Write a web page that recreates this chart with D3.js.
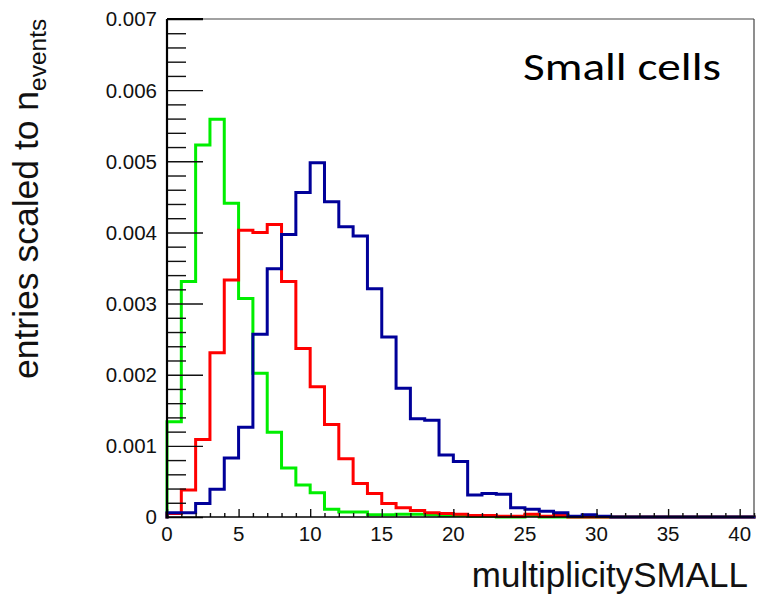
<!DOCTYPE html>
<html>
<head>
<meta charset="utf-8">
<script src="https://cdn.jsdelivr.net/npm/d3@7"></script>
<style>
  html, body { margin: 0; padding: 0; background: #fff; }
  svg { display: block; }
</style>
</head>
<body>
<svg id="chart" width="758" height="597"></svg>
<script>
// ---- data (entries scaled to n_events, unit 1e-3, one value per unit bin 0..40) ----
const binEdges = d3.range(0, 42); // 0..41
const greenVals = [1.34, 3.31, 5.23, 5.59, 4.41, 3.07, 2.02, 1.19, 0.69, 0.45,
                   0.34, 0.11, 0.07, 0.07, 0.03, 0.03, 0.04, 0.04, 0.03, 0.02,
                   0.02, 0.01, 0.01, 0.0, 0.0, 0.02, 0.0, 0.0, 0.0, 0.0,
                   0.0, 0.0, 0.0, 0.0, 0.0, 0.0, 0.0, 0.0, 0.0, 0.0, 0.0];
const redVals   = [0.05, 0.38, 1.09, 2.31, 3.33, 4.03, 4.00, 4.11, 3.31, 2.37,
                   1.83, 1.30, 0.82, 0.47, 0.33, 0.19, 0.13, 0.09, 0.06, 0.05,
                   0.04, 0.02, 0.02, 0.01, 0.01, 0.04, 0.01, 0.02, 0.0, 0.0,
                   0.0, 0.0, 0.0, 0.0, 0.0, 0.0, 0.0, 0.0, 0.0, 0.0, 0.0];
const blueVals  = [0.06, 0.06, 0.19, 0.39, 0.83, 1.26, 2.57, 3.49, 3.97, 4.56,
                   4.98, 4.43, 4.08, 3.95, 3.21, 2.53, 1.81, 1.38, 1.36, 0.87,
                   0.78, 0.31, 0.33, 0.32, 0.13, 0.11, 0.08, 0.06, 0.01, 0.03,
                   0.01, 0.0, 0.0, 0.0, 0.0, 0.0, 0.0, 0.0, 0.0, 0.0, 0.0];
const seriesNames  = ["green", "red", "blue"];
const seriesColors = ["#00ee00", "#ff0000", "#000099"];
const yMajorTicks = [0, 0.001, 0.002, 0.003, 0.004, 0.005, 0.006, 0.007];
const xMajorTicks = [0, 5, 10, 15, 20, 25, 30, 35, 40];
const xTitle = "multiplicitySMALL";
const yTitleMain = "entries scaled to n";
const yTitleSub = "events";
const annotation = "Small cells";

// ---- layout ----
const svg = d3.select("#chart");
const L = 167, R = 754, T = 19, B = 517;
const x = d3.scaleLinear().domain([0, 41]).range([L, R]);
const y = d3.scaleLinear().domain([0, 0.007]).range([B, T]);

const font = "'Liberation Sans', Arial, Helvetica, sans-serif";

// frame (top / right)
svg.append("line").attr("x1", L).attr("x2", R).attr("y1", T).attr("y2", T)
  .attr("stroke", "#444").attr("stroke-width", 1.2);
svg.append("line").attr("x1", R).attr("x2", R).attr("y1", T).attr("y2", B)
  .attr("stroke", "#444").attr("stroke-width", 1.2);

// histograms
const allVals = [greenVals, redVals, blueVals];
const line = d3.line().x(d => x(d[0])).y(d => y(d[1])).curve(d3.curveStepAfter);
allVals.forEach((vals, k) => {
  const pts = [[0, 0]].concat(vals.map((v, i) => [binEdges[i], v * 1e-3]));
  pts.push([binEdges[vals.length], vals[vals.length - 1] * 1e-3]);
  svg.append("path")
    .attr("class", "hist-" + seriesNames[k])
    .attr("d", line(pts))
    .attr("fill", "none")
    .attr("stroke", seriesColors[k])
    .attr("stroke-width", 3)
    .attr("stroke-linejoin", "miter")
    .attr("stroke-linecap", "square");
});

// y axis (ticks inward)
const yMinor = d3.range(0, 0.00701, 0.0002).filter(v => !yMajorTicks.some(m => Math.abs(m - v) < 1e-9));
const yAxisMinor = d3.axisRight(y).tickValues(yMinor).tickSize(19).tickFormat("");
const yAxisMajor = d3.axisRight(y).tickValues(yMajorTicks).tickSize(36).tickFormat("");
[yAxisMinor, yAxisMajor].forEach(ax => {
  const g = svg.append("g").attr("transform", `translate(${L},0)`).call(ax);
  g.select(".domain").remove();
  g.selectAll(".tick line").attr("stroke", "#111").attr("stroke-width", 1.4);
});
svg.selectAll(null).data(yMajorTicks).enter().append("text")
  .attr("x", L - 10).attr("y", d => y(d)).attr("dy", "0.36em")
  .attr("text-anchor", "end")
  .attr("font-family", font).attr("font-size", 20.5).attr("fill", "#111")
  .text(d => d === 0 ? "0" : d3.format(".3f")(d));

// x axis (ticks upward)
const xMinor = d3.range(0, 42).filter(v => v % 5 !== 0);
const xAxisMinor = d3.axisTop(x).tickValues(xMinor).tickSize(4).tickFormat("");
const xAxisMajor = d3.axisTop(x).tickValues(xMajorTicks).tickSize(8).tickFormat("");
[xAxisMinor, xAxisMajor].forEach(ax => {
  const g = svg.append("g").attr("transform", `translate(0,${B})`).call(ax);
  g.select(".domain").remove();
  g.selectAll(".tick line").attr("stroke", "#111").attr("stroke-width", 1.4);
});
svg.selectAll(null).data(xMajorTicks).enter().append("text")
  .attr("x", d => x(d)).attr("y", 541)
  .attr("text-anchor", "middle")
  .attr("font-family", font).attr("font-size", 20.5).attr("fill", "#111")
  .text(d => d);

// axis lines
svg.append("line").attr("x1", L).attr("x2", L).attr("y1", T).attr("y2", B + 1)
  .attr("stroke", "#000").attr("stroke-width", 2.2);
svg.append("line").attr("x1", L).attr("x2", R).attr("y1", B).attr("y2", B)
  .attr("stroke", "#000").attr("stroke-width", 1.6);
svg.append("line").attr("x1", L).attr("x2", L + 36).attr("y1", T).attr("y2", T)
  .attr("stroke", "#000").attr("stroke-width", 2.2);

// axis titles
svg.append("text")
  .attr("x", 748).attr("y", 587)
  .attr("text-anchor", "end")
  .attr("font-family", font).attr("font-size", 35).attr("fill", "#111")
  .text(xTitle);

const yt = svg.append("text")
  .attr("transform", "translate(38,379) rotate(-90)")
  .attr("text-anchor", "start")
  .attr("font-family", font).attr("fill", "#111");
yt.append("tspan").attr("font-size", 35.5).text(yTitleMain);
yt.append("tspan").attr("font-size", 24.5).attr("dy", 8).text(yTitleSub);

// annotation
svg.append("text")
  .attr("x", 523).attr("y", 80)
  .attr("font-family", "Carlito, Calibri, 'Open Sans', Lato, sans-serif")
  .attr("font-size", 38).attr("font-weight", 300).attr("fill", "#000")
  .attr("textLength", 198).attr("lengthAdjust", "spacingAndGlyphs")
  .text(annotation);
</script>
</body>
</html>
